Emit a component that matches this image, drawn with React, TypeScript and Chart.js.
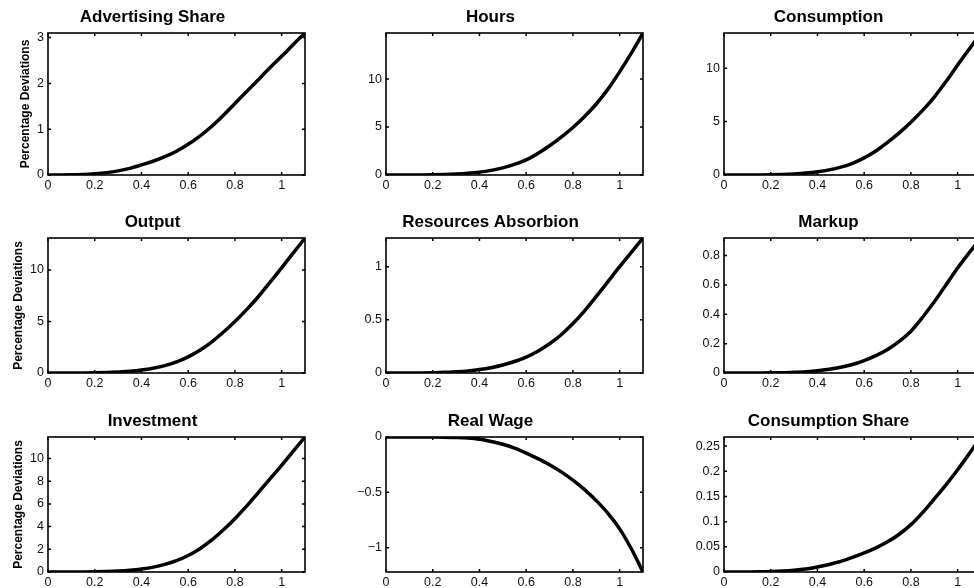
import React, { useEffect, useRef } from "react";
import { Chart, registerables } from "chart.js";

Chart.register(...registerables);

// ---------- data ----------
const xValues = [0, 0.05, 0.1, 0.15, 0.2, 0.25, 0.3, 0.35, 0.4, 0.45, 0.5, 0.55, 0.6, 0.65, 0.7, 0.75, 0.8, 0.85, 0.9, 0.95, 1.0, 1.05, 1.1];
const xTicks = [0, 0.2, 0.4, 0.6, 0.8, 1];

const advertisingShare = [0, 0.001, 0.004, 0.012, 0.028, 0.052, 0.09, 0.145, 0.22, 0.3, 0.4, 0.52, 0.67, 0.85, 1.06, 1.3, 1.56, 1.82, 2.08, 2.34, 2.59, 2.85, 3.1];
const hours = [0, 0, 0.002, 0.008, 0.02, 0.05, 0.1, 0.18, 0.3, 0.48, 0.74, 1.1, 1.58, 2.25, 3.05, 3.95, 4.95, 6.1, 7.4, 8.95, 10.75, 12.7, 14.8];
const consumption = [0, 0, 0.002, 0.008, 0.02, 0.05, 0.1, 0.18, 0.3, 0.48, 0.74, 1.1, 1.6, 2.25, 3.05, 3.95, 4.95, 6.05, 7.3, 8.75, 10.3, 11.8, 13.3];
const output = [0, 0, 0.002, 0.008, 0.02, 0.05, 0.1, 0.17, 0.29, 0.47, 0.72, 1.08, 1.57, 2.2, 3.0, 3.95, 5.0, 6.15, 7.4, 8.8, 10.2, 11.65, 13.1];
const resourcesAbsorbion = [0, 0, 0.0005, 0.001, 0.003, 0.006, 0.012, 0.02, 0.032, 0.05, 0.075, 0.108, 0.15, 0.205, 0.275, 0.36, 0.465, 0.585, 0.72, 0.86, 1.0, 1.135, 1.27];
const markup = [0, 0, 0, 0.0005, 0.001, 0.002, 0.005, 0.009, 0.015, 0.025, 0.039, 0.058, 0.085, 0.118, 0.16, 0.215, 0.285, 0.38, 0.485, 0.6, 0.715, 0.82, 0.92];
const investment = [0, 0, 0.002, 0.007, 0.018, 0.045, 0.09, 0.16, 0.27, 0.43, 0.67, 1.0, 1.45, 2.05, 2.8, 3.7, 4.7, 5.8, 7.0, 8.2, 9.4, 10.65, 11.9];
const realWage = [0, 0, 0, 0, -0.0005, -0.0015, -0.004, -0.009, -0.02, -0.04, -0.065, -0.1, -0.145, -0.195, -0.25, -0.315, -0.39, -0.475, -0.575, -0.69, -0.83, -1.01, -1.22];
const consumptionShare = [0, 0, 0.0001, 0.0003, 0.0008, 0.0018, 0.0035, 0.006, 0.01, 0.015, 0.021, 0.029, 0.038, 0.048, 0.06, 0.075, 0.094, 0.118, 0.145, 0.173, 0.203, 0.235, 0.268];

const titles = ["Advertising Share", "Hours", "Consumption", "Output", "Resources Absorbion", "Markup", "Investment", "Real Wage", "Consumption Share"];
const series = [advertisingShare, hours, consumption, output, resourcesAbsorbion, markup, investment, realWage, consumptionShare];
const yLimits = [[0, 3.1], [0, 14.8], [0, 13.3], [0, 13.1], [0, 1.27], [0, 0.92], [0, 11.9], [-1.22, 0], [0, 0.268]];
const yTickSets = [
  [0, 1, 2, 3],
  [0, 5, 10],
  [0, 5, 10],
  [0, 5, 10],
  [0, 0.5, 1],
  [0, 0.2, 0.4, 0.6, 0.8],
  [0, 2, 4, 6, 8, 10],
  [-1, -0.5, 0],
  [0, 0.05, 0.1, 0.15, 0.2, 0.25],
];
const yAxisLabel = "Percentage Deviations";

// ---------- layout ----------
const FONT = "'Liberation Sans', Arial, Helvetica, sans-serif";
const colBoxLeft = [48, 386, 724];
const rowBoxTop = [33, 238, 437];
const rowBoxBottom = [175, 373, 572];
const rowYLabelPad = [18, 11, 11];
const BOX_W = 257;
const LEFT_AREA = 48;
const TOP_AREA = 33;
const BOTTOM_AREA = 25;
const RIGHT_AREA = 20;
const TICK_LEN = 3;

const fmt = (v: number) => {
  const s = String(Math.round(v * 1000) / 1000);
  return v < 0 ? "\u2212" + s.slice(1) : s;
};

const boxPlugin = {
  id: "matlabBox",
  afterDatasetsDraw(chart: any) {
    const { ctx, chartArea } = chart;
    const { left, right, top, bottom } = chartArea;
    const xs = chart.scales.x;
    const ys = chart.scales.y;
    ctx.save();
    ctx.strokeStyle = "#000";
    ctx.lineWidth = 1.5;
    ctx.beginPath();
    xs.ticks.forEach((t: any) => {
      const px = xs.getPixelForValue(t.value);
      ctx.moveTo(px, bottom);
      ctx.lineTo(px, bottom - TICK_LEN);
      ctx.moveTo(px, top);
      ctx.lineTo(px, top + TICK_LEN);
    });
    ys.ticks.forEach((t: any) => {
      const py = ys.getPixelForValue(t.value);
      ctx.moveTo(left, py);
      ctx.lineTo(left + TICK_LEN, py);
      ctx.moveTo(right, py);
      ctx.lineTo(right - TICK_LEN, py);
    });
    ctx.stroke();
    ctx.lineWidth = 1.6;
    ctx.strokeRect(left, top, right - left, bottom - top);
    ctx.restore();
  },
};

function Panel({ index }: { index: number }) {
  const ref = useRef<HTMLCanvasElement | null>(null);
  const row = Math.floor(index / 3);
  const col = index % 3;
  const boxH = rowBoxBottom[row] - rowBoxTop[row];
  const width = LEFT_AREA + BOX_W + RIGHT_AREA;
  const height = TOP_AREA + boxH + BOTTOM_AREA;
  const left = colBoxLeft[col] - LEFT_AREA;
  const top = rowBoxTop[row] - TOP_AREA;

  useEffect(() => {
    if (!ref.current) return;
    const values = series[index];
    const data = xValues.map((x, i) => ({ x, y: values[i] }));
    const yt = yTickSets[index];
    const chart = new Chart(ref.current, {
      type: "line",
      data: {
        datasets: [
          {
            data,
            borderColor: "#000",
            borderWidth: 3.5,
            pointRadius: 0,
            cubicInterpolationMode: "monotone",
            fill: false,
          },
        ],
      },
      options: {
        responsive: false,
        animation: false,
        devicePixelRatio: 1,
        events: [],
        layout: { padding: { top: 0, left: 0, right: RIGHT_AREA, bottom: 0 } },
        plugins: {
          legend: { display: false },
          tooltip: { enabled: false },
          title: {
            display: true,
            text: titles[index],
            color: "#000",
            font: { family: FONT, size: 17, weight: "bold", lineHeight: 1.2 },
            padding: { top: 7, bottom: TOP_AREA - 7 - 17 * 1.2 },
          },
        },
        scales: {
          x: {
            type: "linear",
            min: 0,
            max: 1.1,
            grid: { display: false, drawTicks: false },
            border: { display: false },
            afterBuildTicks: (s: any) => {
              s.ticks = xTicks.map((v) => ({ value: v }));
            },
            afterFit: (s: any) => {
              s.height = BOTTOM_AREA;
              s.paddingLeft = 0;
              s.paddingRight = 0;
            },
            ticks: {
              color: "#111",
              padding: 3,
              maxRotation: 0,
              autoSkip: false,
              font: { family: FONT, size: 12.5 },
              callback: (v: any) => fmt(Number(v)),
            },
          },
          y: {
            type: "linear",
            min: yLimits[index][0],
            max: yLimits[index][1],
            grid: { display: false, drawTicks: false },
            border: { display: false },
            afterBuildTicks: (s: any) => {
              s.ticks = yt.map((v) => ({ value: v }));
            },
            afterFit: (s: any) => {
              s.width = LEFT_AREA;
              s.paddingTop = 0;
              s.paddingBottom = 0;
            },
            title: {
              display: col === 0,
              text: yAxisLabel,
              color: "#000",
              font: { family: FONT, size: 12, weight: "bold", lineHeight: 1.2 },
              padding: { top: rowYLabelPad[row], bottom: 0 },
            },
            ticks: {
              color: "#111",
              padding: 4,
              autoSkip: false,
              font: { family: FONT, size: 12.5 },
              callback: (v: any) => fmt(Number(v)),
            },
          },
        },
      },
      plugins: [boxPlugin],
    } as any);
    return () => chart.destroy();
  }, [index]);

  return (
    <canvas
      ref={ref}
      width={width}
      height={height}
      style={{ position: "absolute", left, top, width, height }}
    />
  );
}

export default function App() {
  return (
    <div
      style={{
        position: "fixed",
        left: 0,
        top: 0,
        width: 974,
        height: 588,
        overflow: "hidden",
        background: "#fff",
      }}
    >
      {titles.map((_, i) => (
        <Panel key={i} index={i} />
      ))}
    </div>
  );
}
